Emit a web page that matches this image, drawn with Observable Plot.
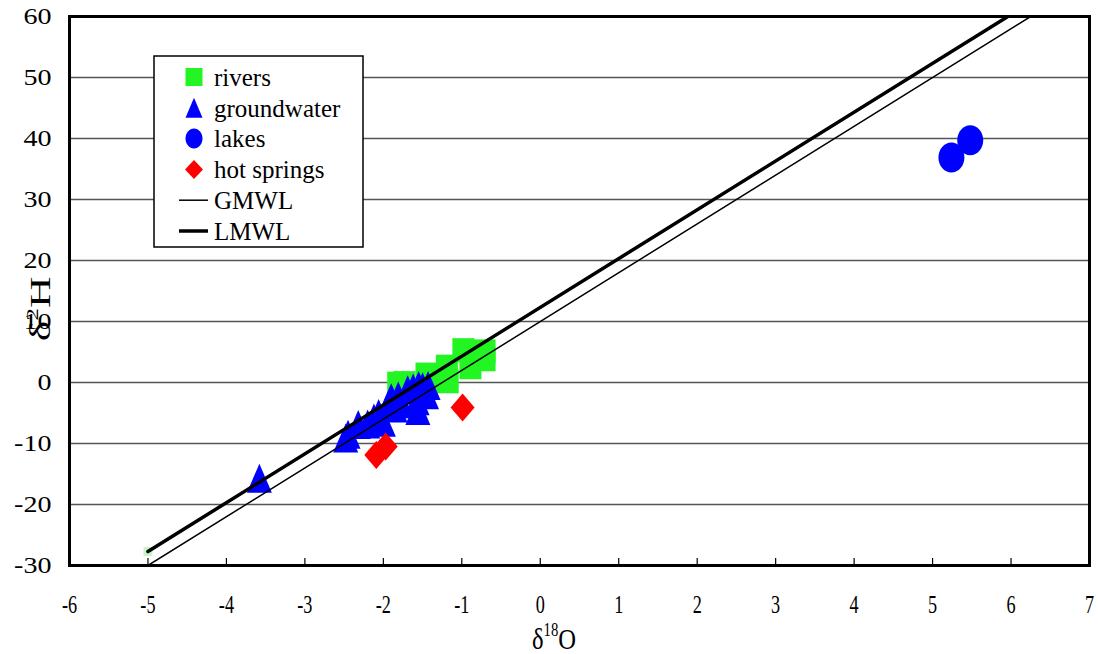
<!DOCTYPE html>
<html>
<head>
<meta charset="utf-8">
<script src="https://cdn.jsdelivr.net/npm/d3@7"></script>
<script src="https://cdn.jsdelivr.net/npm/@observablehq/plot@0.6"></script>
<style>
  body { margin: 0; background: #fff; }
  #chart { width: 1098px; height: 654px; }
  #chart svg, #chart svg text, #chart svg tspan { font-family: "Liberation Serif", "DejaVu Serif", serif !important; }
</style>
</head>
<body>
<div id="chart"></div>
<script>
// ---- data ----
const rivers = [
  [-1.81, -0.2], [-1.73, -0.1], [-1.45, 1.3], [-1.40, 0.5], [-1.19, 2.6],
  [-1.18, 0.2], [-0.98, 5.3], [-0.89, 2.5], [-0.71, 5.1], [-0.71, 3.8]
];
const groundwater = [
  [-3.58, -15.7], [-2.48, -9.1], [-2.45, -8.5], [-2.32, -6.9], [-2.20, -6.8],
  [-2.12, -5.8], [-2.06, -5.1], [-2.00, -6.5], [-1.93, -3.5], [-1.90, -2.5],
  [-1.85, -4.2], [-1.81, -2.2], [-1.80, -3.5], [-1.69, -1.2], [-1.62, -0.9],
  [-1.57, -3.0], [-1.56, -4.6], [-1.55, -0.5], [-1.50, -0.7], [-1.45, -2.0],
  [-1.43, -0.5]
];
const lakes = [[5.24, 36.9], [5.48, 39.7]];
const hotSprings = [[-2.09, -11.9], [-1.97, -10.5], [-0.99, -4.1]];
const gmwlX = [-5, 6.25];
const gmwlY = [-30, 60];
const lmwlX = [-5, 5.96];
const lmwlY = [-27.7, 60];
const lmwlMarker = [[-5, -27.7]];
const xTicks = [-6, -5, -4, -3, -2, -1, 0, 1, 2, 3, 4, 5, 6, 7];
const yTicks = [-30, -20, -10, 0, 10, 20, 30, 40, 50, 60];
const legendLabels = ["rivers", "groundwater", "lakes", "hot springs", "GMWL", "LMWL"];

// ---- styles ----
const GREEN = "#22f522", BLUE = "#0000ff", RED = "#ff0000";
const FONT = "Liberation Serif";

// custom symbols (sizes in px, scaled by r/12)
const sym = fn => ({ draw(c, size) { const s = Math.sqrt(size / Math.PI) / 12; fn(c, s); } });
const squareSym = (w, h) => sym((c, s) => { c.rect(-w * s, -h * s, 2 * w * s, 2 * h * s); });
const triSym = (w, h) => sym((c, s) => { c.moveTo(0, -h * s); c.lineTo(w * s, h * s); c.lineTo(-w * s, h * s); c.closePath(); });
const diamondSym = (w, h) => sym((c, s) => { c.moveTo(0, -h * s); c.lineTo(w * s, 0); c.lineTo(0, h * s); c.lineTo(-w * s, 0); c.closePath(); });
const ellipseSym = (rx0, ry0) => sym((c, s) => {
  const rx = rx0 * s, ry = ry0 * s, k = 0.5523, kx = rx * k, ky = ry * k;
  c.moveTo(rx, 0);
  c.bezierCurveTo(rx, ky, kx, ry, 0, ry);
  c.bezierCurveTo(-kx, ry, -rx, ky, -rx, 0);
  c.bezierCurveTo(-rx, -ky, -kx, -ry, 0, -ry);
  c.bezierCurveTo(kx, -ry, rx, -ky, rx, 0);
  c.closePath();
});

const gmwl = gmwlX.map((x, i) => ({x, y: gmwlY[i]}));
const lmwl = lmwlX.map((x, i) => ({x, y: lmwlY[i]}));

const plot = Plot.plot({
  width: 1098,
  height: 654,
  marginLeft: 69,
  marginRight: 9,
  marginTop: 16,
  marginBottom: 89,
  style: { fontFamily: FONT, background: "#fff", color: "#000", overflow: "visible" },
  x: { domain: [-6, 7], label: null },
  y: { domain: [-30, 60], label: null },
  marks: [
    Plot.gridY(yTicks, { stroke: "#555", strokeOpacity: 1, strokeWidth: 1.3 }),
    Plot.axisY(yTicks, { tickSize: 0, tickPadding: 18, fontSize: 23, fontFamily: FONT, label: null, tickFormat: d => String(d) }),
    Plot.axisX(xTicks, { tickSize: 0, tickPadding: 29, fontSize: 26, fontFamily: FONT, label: null, tickFormat: d => String(d) }),
    Plot.axisX(xTicks, { tickSize: -7, tickFormat: () => "", label: null, strokeWidth: 1.2 }),
    Plot.dot(lmwlMarker, { x: d => d[0], y: d => d[1], symbol: squareSym(4.5, 4.5), r: 12, fill: "#c8f5c8" }),
    Plot.dot(rivers, { x: d => d[0], y: d => d[1], symbol: squareSym(11, 12), r: 12, fill: GREEN }),
    Plot.dot(groundwater, { x: d => d[0], y: d => d[1], symbol: triSym(12.5, 14.5), r: 12, fill: BLUE }),
    Plot.dot(lakes, { x: d => d[0], y: d => d[1], symbol: ellipseSym(13, 15), r: 12, fill: BLUE }),
    Plot.dot(hotSprings, { x: d => d[0], y: d => d[1], symbol: diamondSym(12, 14), r: 12, fill: RED }),
    Plot.line(gmwl, { x: "x", y: "y", stroke: "#000", strokeWidth: 1.5, clip: true }),
    Plot.line(lmwl, { x: "x", y: "y", stroke: "#000", strokeWidth: 3.5, clip: true }),
    Plot.frame({ stroke: "#000", strokeWidth: 3 })
  ]
});

document.getElementById("chart").appendChild(plot);

// ---- axis titles and legend ----
const svg = d3.select(plot);

// x tick labels in the reference are narrow (condensed), y tick labels wide
const stretch = (sel, f) => svg.selectAll(sel).each(function () {
  const w = this.getComputedTextLength();
  if (w > 0) {
    this.setAttribute("textLength", (w * f).toFixed(1));
    this.setAttribute("lengthAdjust", "spacingAndGlyphs");
  }
});
stretch('g[aria-label="x-axis tick label"] text', 0.7);
stretch('g[aria-label="y-axis tick label"] text', 1.22);

const yt = svg.append("text")
  .attr("transform", "translate(50,309) rotate(-90) scale(1.5,1)")
  .attr("text-anchor", "middle")
  .attr("font-size", 29).attr("fill", "#000");
yt.append("tspan").text("δ");
yt.append("tspan").attr("font-size", 17).attr("dy", -12).text("2");
yt.append("tspan").attr("dy", 12).text("H");

const xt = svg.append("text")
  .attr("transform", "translate(554,649) scale(0.82,1)")
  .attr("text-anchor", "middle")
  .attr("font-size", 30).attr("fill", "#000");
xt.append("tspan").text("δ");
xt.append("tspan").attr("font-size", 18).attr("dy", -13).text("18");
xt.append("tspan").attr("dy", 13).text("O");

const lg = svg.append("g");
lg.append("rect").attr("x", 154).attr("y", 56).attr("width", 209).attr("height", 191)
  .attr("fill", "#fff").attr("stroke", "#000").attr("stroke-width", 1.5);
const rowY = i => 77 + i * 30.8;
const legendSymbols = [
  { s: squareSym(8.5, 9), fill: GREEN },
  { s: triSym(8.5, 10), fill: BLUE },
  { s: ellipseSym(8.5, 10), fill: BLUE },
  { s: diamondSym(9, 9.5), fill: RED }
];
legendSymbols.forEach((d, i) => {
  const p = d3.path();
  d.s.draw(p, Math.PI * 144);
  lg.append("path").attr("d", p.toString()).attr("fill", d.fill)
    .attr("transform", `translate(194,${rowY(i)})`);
});
lg.append("line").attr("x1", 179).attr("x2", 208).attr("y1", rowY(4)).attr("y2", rowY(4))
  .attr("stroke", "#000").attr("stroke-width", 1.5);
lg.append("line").attr("x1", 179).attr("x2", 208).attr("y1", rowY(5)).attr("y2", rowY(5))
  .attr("stroke", "#000").attr("stroke-width", 3.5);
legendLabels.forEach((t, i) => {
  lg.append("text").attr("x", 214).attr("y", rowY(i)).attr("dy", "0.35em")
    .attr("text-anchor", "start")
    .attr("font-size", 25).attr("fill", "#000").text(t);
});
</script>
</body>
</html>
